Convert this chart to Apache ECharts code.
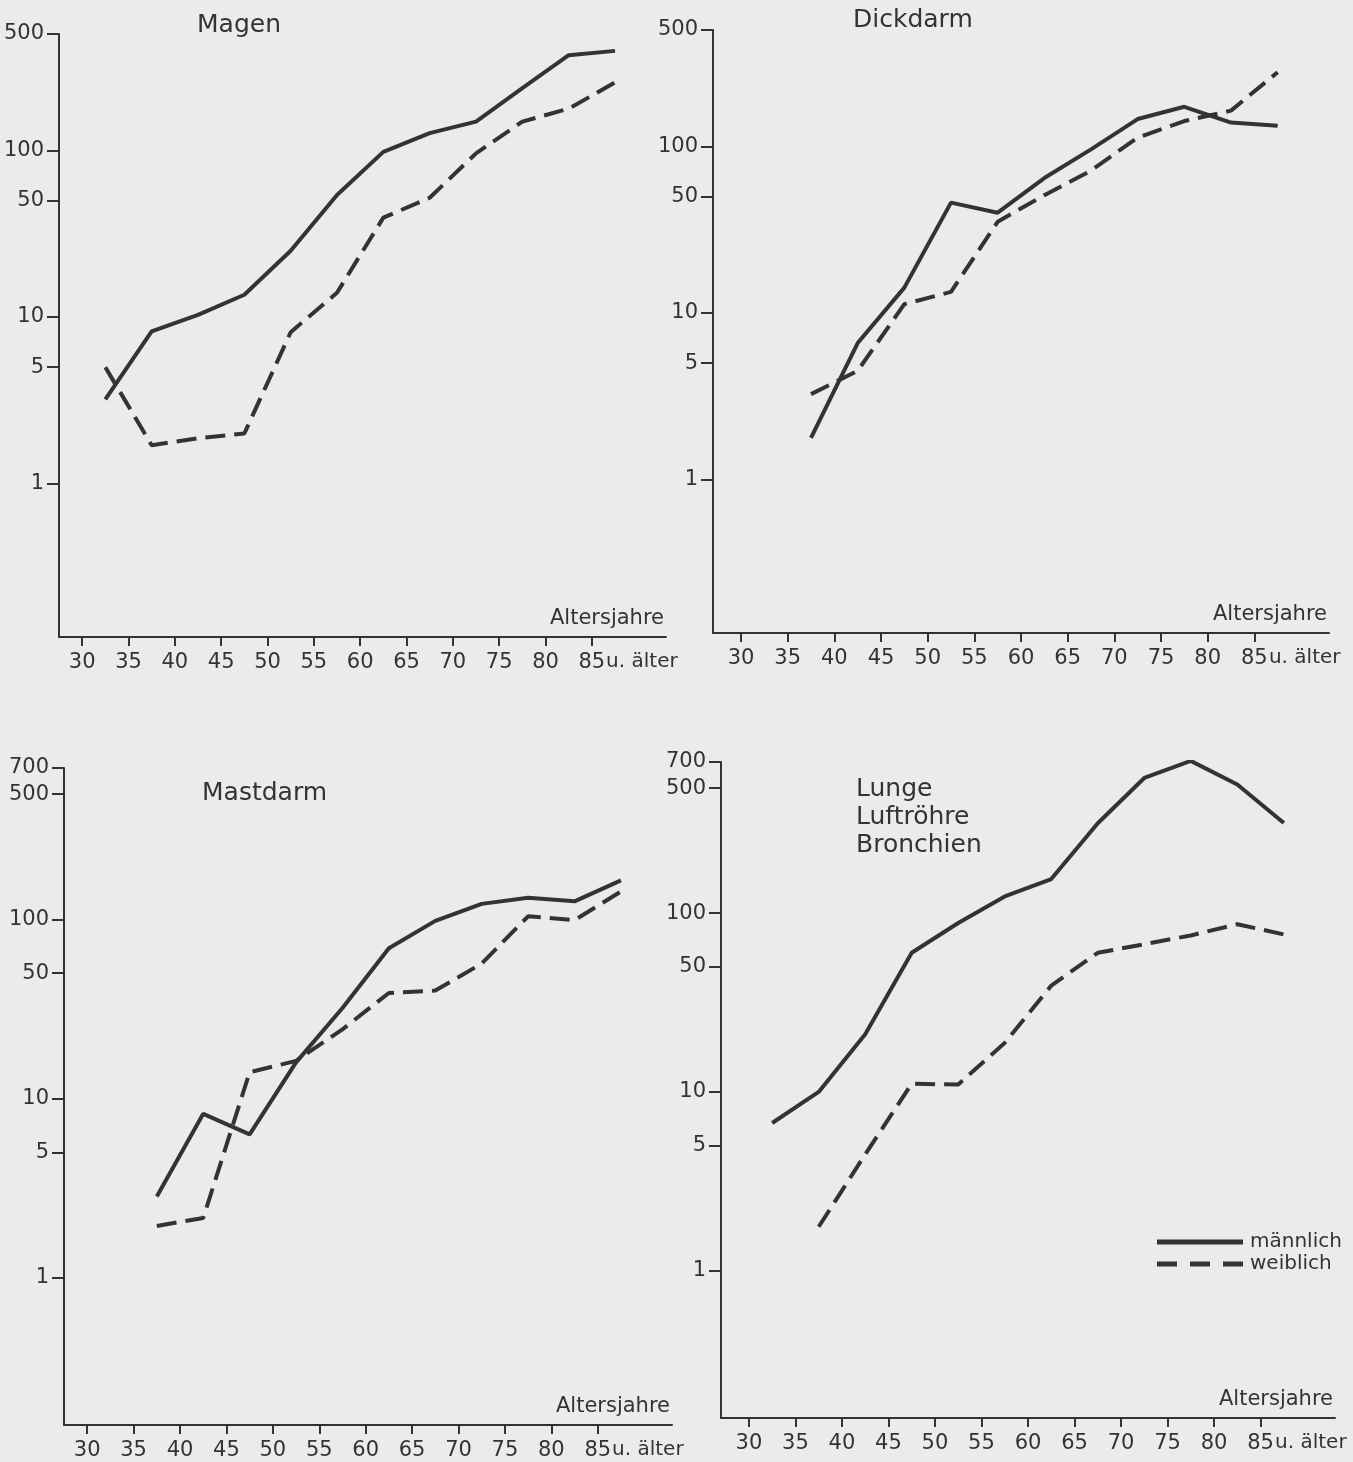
<!DOCTYPE html>
<html>
<head>
<meta charset="utf-8">
<script src="https://cdn.jsdelivr.net/npm/echarts@6/dist/echarts.min.js"></script>
<style>
  html, body { margin: 0; padding: 0; background: #ebebeb; }
  #container { width: 1353px; height: 1462px; }
</style>
</head>
<body>
<div id="container"></div>
<script>
// age group midpoints (30-35 ... 85 u. aelter)
const ages = [32.5, 37.5, 42.5, 47.5, 52.5, 57.5, 62.5, 67.5, 72.5, 77.5, 82.5, 87.5];

const xTicks = [30, 35, 40, 45, 50, 55, 60, 65, 70, 75, 80, 85];
const yTicksTop = [1, 5, 10, 50, 100, 500];
const yTicksBottom = [1, 5, 10, 50, 100, 500, 700];

// incidence per 100 000
const magenM = [3.2, 8.2, 10.3, 13.6, 25, 54, 98, 127, 149, 237, 373, 396];
const magenW = [5.0, 1.7, 1.87, 2.0, 8.1, 14, 39.5, 52, 96, 149, 178, 256];

const dickdarmM = [null, 1.78, 6.6, 14.2, 46, 40, 64.6, 96, 146, 173, 139, 133];
const dickdarmW = [null, 3.26, 4.5, 11.3, 13.4, 35.3, 51, 71.6, 113, 142, 164, 279];

const mastdarmM = [null, 2.83, 8.2, 6.3, 15.9, 32, 69, 98, 122, 132, 126, 165];
const mastdarmW = [null, 1.94, 2.15, 14.0, 16.2, 24.3, 38.8, 40, 56.6, 104, 99, 143];

const lungeM = [6.7, 10, 21, 60, 88, 124, 155, 318, 570, 710, 524, 319];
const lungeW = [null, 1.76, 4.47, 11.1, 11, 18.8, 39.3, 60, 67, 75, 86.7, 76];

const ink = '#333';
const font = 'DejaVu Sans';

function pairs(vals) {
    return ages.map((a, i) => [a, vals[i]]).filter(p => p[1] != null);
}

function xAxisFor(gridIndex, min, max) {
    return {
        type: 'value',
        gridIndex: gridIndex,
        min: min,
        max: max,
        name: 'Altersjahre',
        nameLocation: 'end',
        nameGap: -2,
        nameTextStyle: {
            color: ink, fontFamily: font, fontSize: 21,
            align: 'right', verticalAlign: 'bottom', padding: [0, 0, 8, 0]
        },
        axisLine: { show: true, onZero: false, lineStyle: { color: ink, width: 2 } },
        axisTick: { show: true, length: 9, lineStyle: { color: ink, width: 2 }, customValues: xTicks },
        axisLabel: {
            color: ink, fontFamily: font, fontSize: 21, margin: 15,
            hideOverlap: false,
            customValues: xTicks.concat([90.4]),
            formatter: v => (v > 86 ? '{s|u. älter}' : String(v)),
            rich: { s: { color: ink, fontFamily: font, fontSize: 20 } }
        },
        splitLine: { show: false }
    };
}

function yAxisFor(gridIndex, min, max, ticks) {
    return {
        type: 'log',
        logBase: 10,
        gridIndex: gridIndex,
        min: min,
        max: max,
        axisLine: { show: true, lineStyle: { color: ink, width: 2 } },
        axisTick: { show: true, length: 12, lineStyle: { color: ink, width: 2 }, customValues: ticks },
        axisLabel: {
            color: ink, fontFamily: font, fontSize: 21, margin: 15,
            customValues: ticks,
            formatter: v => String(Math.round(v))
        },
        splitLine: { show: false },
        minorTick: { show: false }
    };
}

function lineSeries(name, idx, vals, dashed) {
    return {
        name: name,
        type: 'line',
        xAxisIndex: idx,
        yAxisIndex: idx,
        data: pairs(vals),
        symbol: 'none',
        smooth: false,
        silent: true,
        lineStyle: { color: ink, width: 4, type: dashed ? [20, 9] : 'solid' },
        itemStyle: { color: ink }
    };
}

function titleAt(text, left, top) {
    return {
        text: text,
        left: left,
        top: top,
        padding: 0,
        textStyle: { color: ink, fontFamily: font, fontSize: 25, fontWeight: 500, lineHeight: 28 }
    };
}

let option = {
    backgroundColor: '#ebebeb',
    animation: false,
    title: [
        titleAt('Magen', 197, 11),
        titleAt('Dickdarm', 853, 6),
        titleAt('Mastdarm', 202, 779),
        titleAt('Lunge\nLuftröhre\nBronchien', 856, 775)
    ],
    legend: {
        data: [
            { name: 'männlich', icon: 'path://M0,0h86v5h-86z' },
            { name: 'weiblich', icon: 'path://M0,0h20v5h-20z M33,0h20v5h-20z M66,0h20v5h-20z' }
        ],
        orient: 'vertical',
        left: 1152,
        top: 1226,
        itemWidth: 86,
        itemHeight: 5,
        itemGap: 0,
        selectedMode: false,
        textStyle: { color: ink, fontFamily: font, fontSize: 20, lineHeight: 22, padding: [0, 0, 0, 2] }
    },
    grid: [
        { left: 59, top: 34, width: 607, height: 603 },
        { left: 713, top: 30, width: 616, height: 603 },
        { left: 64, top: 768, width: 608, height: 657 },
        { left: 721, top: 762, width: 614, height: 656 }
    ],
    xAxis: [
        xAxisFor(0, 27.5, 93),
        xAxisFor(1, 27, 93),
        xAxisFor(2, 27.5, 93),
        xAxisFor(3, 27, 93)
    ],
    yAxis: [
        yAxisFor(0, 0.12, 500, yTicksTop),
        yAxisFor(1, 0.12, 500, yTicksTop),
        yAxisFor(2, 0.15, 700, yTicksBottom),
        yAxisFor(3, 0.15, 700, yTicksBottom)
    ],
    series: [
        lineSeries('männlich', 0, magenM, false),
        lineSeries('weiblich', 0, magenW, true),
        lineSeries('männlich', 1, dickdarmM, false),
        lineSeries('weiblich', 1, dickdarmW, true),
        lineSeries('männlich', 2, mastdarmM, false),
        lineSeries('weiblich', 2, mastdarmW, true),
        lineSeries('männlich', 3, lungeM, false),
        lineSeries('weiblich', 3, lungeW, true)
    ]
};

let chartDom = document.getElementById('container');
let chrt = echarts.init(chartDom);
chrt.setOption(option);
</script>
</body>
</html>
